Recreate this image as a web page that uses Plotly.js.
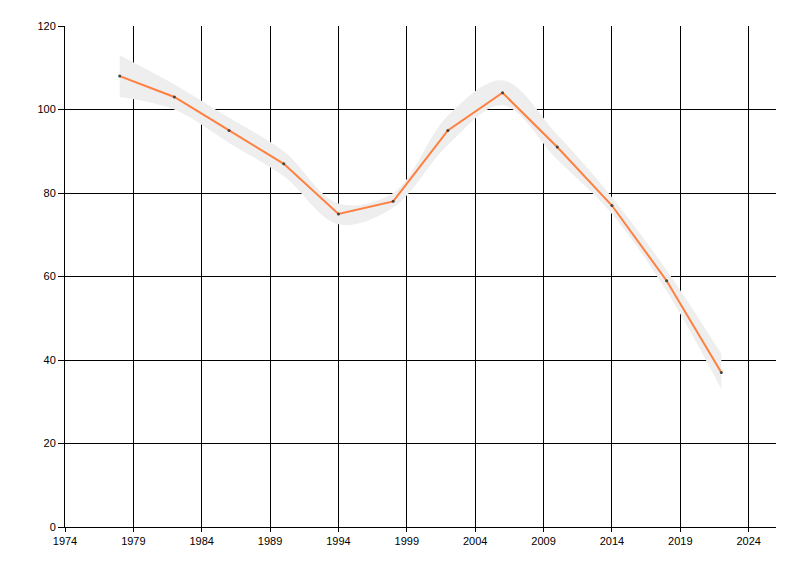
<!DOCTYPE html>
<html>
<head>
<meta charset="utf-8">
<script src="https://cdn.plot.ly/plotly-3.0.1.min.js"></script>
<style>html,body{margin:0;padding:0;background:#fff;}#chart{width:800px;height:576px;}</style>
</head>
<body>
<div id="chart"></div>
<script>
const years = [1978, 1982, 1986, 1990, 1994, 1998, 2002, 2006, 2010, 2014, 2018, 2022];
const values = [108, 103, 95, 87, 75, 78, 95, 104, 91, 77, 59, 37];
const bandUpper = [113, 106, 98, 90, 77.5, 80, 98.5, 107, 94, 79, 61.5, 41.5];
const bandLower = [103, 100, 92, 84, 72.5, 76.5, 91.5, 101, 88, 75, 56.5, 33];

const traces = [
  {x: years, y: bandLower, mode: 'lines', line: {width: 0, shape: 'spline', smoothing: 1}, hoverinfo: 'skip', showlegend: false},
  {x: years, y: bandUpper, mode: 'lines', line: {width: 0, shape: 'spline', smoothing: 1}, fill: 'tonexty', fillcolor: '#eeeeee', hoverinfo: 'skip', showlegend: false},
  {x: years, y: values, mode: 'lines+markers', line: {color: '#ff7f3f', width: 2}, marker: {size: 3, color: '#444444'}, showlegend: false}
];

const font = {family: 'Liberation Sans, Arial, sans-serif', size: 11, color: '#000000'};
const layout = {
  width: 800, height: 576,
  margin: {l: 65, r: 24, t: 26, b: 49},
  paper_bgcolor: '#ffffff', plot_bgcolor: '#ffffff',
  font: font,
  showlegend: false,
  xaxis: {range: [1974, 2026], tick0: 1974, dtick: 5, showgrid: true, gridcolor: '#000000', gridwidth: 1,
          showline: true, linecolor: '#000000', linewidth: 1, ticks: 'outside', ticklen: 4, tickcolor: '#000000',
          zeroline: false, tickfont: font, fixedrange: true},
  yaxis: {range: [0, 120], tick0: 0, dtick: 20, showgrid: true, gridcolor: '#000000', gridwidth: 1,
          showline: true, linecolor: '#000000', linewidth: 1, ticks: 'outside', ticklen: 6, tickcolor: '#000000',
          zeroline: false, tickfont: font, fixedrange: true}
};
Plotly.newPlot('chart', traces, layout, {displayModeBar: false, staticPlot: true});
</script>
</body>
</html>
